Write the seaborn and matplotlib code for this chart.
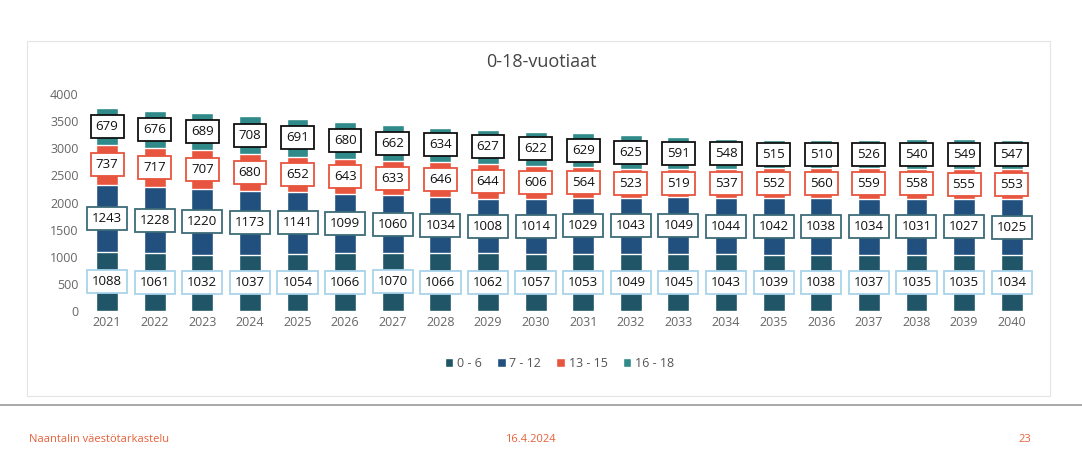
import numpy as np
import pandas as pd
import matplotlib
matplotlib.use("Agg")
import matplotlib.pyplot as plt
import seaborn as sns

years = [str(y) for y in range(2021, 2041)]
age_0_6 = [1088, 1061, 1032, 1037, 1054, 1066, 1070, 1066, 1062, 1057,
           1053, 1049, 1045, 1043, 1039, 1038, 1037, 1035, 1035, 1034]
age_7_12 = [1243, 1228, 1220, 1173, 1141, 1099, 1060, 1034, 1008, 1014,
            1029, 1043, 1049, 1044, 1042, 1038, 1034, 1031, 1027, 1025]
age_13_15 = [737, 717, 707, 680, 652, 643, 633, 646, 644, 606,
             564, 523, 519, 537, 552, 560, 559, 558, 555, 553]
age_16_18 = [679, 676, 689, 708, 691, 680, 662, 634, 627, 622,
             629, 625, 591, 548, 515, 510, 526, 540, 549, 547]

groups = ["0 - 6", "7 - 12", "13 - 15", "16 - 18"]
series = [age_0_6, age_7_12, age_13_15, age_16_18]
colors = ["#1f5566", "#22507e", "#e8553e", "#2f8a89"]
edges = ["#a9d3ea", "#3d6b78", "#e8553e", "#111111"]

sns.set_theme(style="white")
plt.rcParams["font.family"] = ["Open Sans", "DejaVu Sans"]

fig = plt.figure(figsize=(10.82, 4.5), dpi=100)
ax = fig.add_axes([0.077, 0.309, 0.88, 0.482])

# stacked bars: draw cumulative totals from the top segment down
cum = np.cumsum(np.array(series), axis=0)
df = pd.DataFrame({"year": years})
for i in range(len(groups) - 1, -1, -1):
    df["total"] = cum[i]
    sns.barplot(data=df, x="year", y="total", color=colors[i], width=0.46,
                saturation=1, ax=ax, label=groups[i])

for i, vals in enumerate(series):
    base = cum[i] - np.array(vals)
    for x, (b, v) in enumerate(zip(base, vals)):
        ax.text(x, b + v / 2, str(v), ha="center", va="center", fontsize=9.5,
                color="#111111",
                bbox=dict(boxstyle="square,pad=0.38", fc="white", ec=edges[i], lw=1.3))

ax.set_ylim(0, 4000)
ax.set_xlim(-0.5, 19.5)
ax.set_yticks(range(0, 4001, 500))
ax.set_xlabel("")
ax.set_ylabel("")
ax.tick_params(axis="both", labelsize=9, colors="#666666", length=0)
for s in ax.spines.values():
    s.set_visible(False)

handles, labels = ax.get_legend_handles_labels()
order = [labels.index(g) for g in groups]
ax.legend([handles[k] for k in order], groups, loc="upper center",
          bbox_to_anchor=(0.5, -0.16), ncol=4, frameon=False, fontsize=9,
          handlelength=0.7, handleheight=0.7, handletextpad=0.3, columnspacing=1.2,
          labelcolor="#555555")

fig.text(0.5, 0.862, "0-18-vuotiaat", ha="center", va="center", fontsize=13, color="#444444")

# chart frame and footer
fig.patches.append(plt.Rectangle((0.025, 0.12), 0.945, 0.79, transform=fig.transFigure,
                                 fill=False, ec="#e4e4e4", lw=0.8))
fig.add_artist(plt.Line2D([0.0, 1.0], [0.1, 0.1], transform=fig.transFigure,
                          color="#999999", lw=1.2))
fig.text(0.027, 0.01, "Naantalin väestötarkastelu", fontsize=8, color="#e8603a", va="bottom")
fig.text(0.49, 0.01, "16.4.2024", fontsize=8, color="#e8603a", ha="center", va="bottom")
fig.text(0.947, 0.01, "23", fontsize=8, color="#e8603a", ha="center", va="bottom")

fig.savefig("out.png", dpi=100)
